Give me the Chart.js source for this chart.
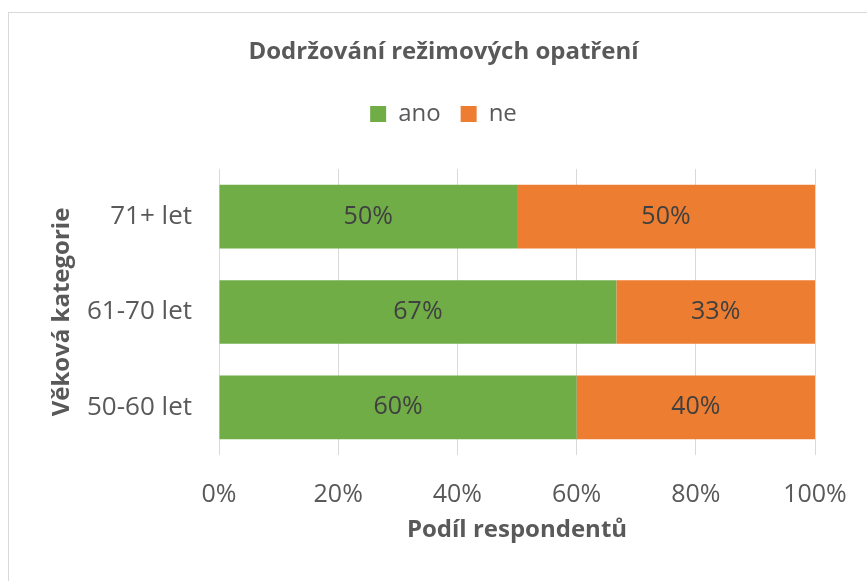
<!DOCTYPE html>
<html>
<head>
<meta charset="utf-8">
<script src="https://cdn.jsdelivr.net/npm/chart.js@4/dist/chart.umd.min.js"></script>
<style>
  html, body { margin: 0; padding: 0; background: #fff; overflow: hidden; }
  #wrap { position: relative; width: 867px; height: 581px; overflow: hidden; }
  #frame { position: absolute; left: 8px; top: 12px; width: 900px; height: 600px;
           border-left: 1px solid #d9d9d9; border-top: 1px solid #d9d9d9; }
  #chart { position: absolute; left: 0; top: 0; display: block; }
</style>
</head>
<body>
<div id="wrap">
  <div id="frame"></div>
  <canvas id="chart" width="887" height="581"></canvas>
</div>
<script>
// categories listed top to bottom as they appear
const categories = ['71+ let', '61-70 let', '50-60 let'];
const anoValues = [50, 66.67, 60];
const neValues = [50, 33.33, 40];
const xTicks = [0, 20, 40, 60, 80, 100];

const FONT = "'Open Sans', sans-serif";
const TEXT = '#595959';

// draws the percentage inside every bar segment
const barLabels = {
  id: 'barLabels',
  afterDatasetsDraw(chart) {
    const ctx = chart.ctx;
    ctx.save();
    ctx.font = '25px ' + FONT;
    ctx.fillStyle = '#404040';
    ctx.textAlign = 'center';
    ctx.textBaseline = 'middle';
    chart.data.datasets.forEach((ds, i) => {
      chart.getDatasetMeta(i).data.forEach((bar, j) => {
        const cx = (bar.x + bar.base) / 2;
        ctx.fillText(Math.round(ds.data[j]) + '%', cx, bar.y);
      });
    });
    ctx.restore();
  }
};

new Chart(document.getElementById('chart'), {
  type: 'bar',
  data: {
    labels: categories,
    datasets: [
      { label: 'ano', data: anoValues, backgroundColor: '#70ad47', borderWidth: 0,
        xAxisID: 'x', yAxisID: 'y', categoryPercentage: 1, barPercentage: 0.667 },
      { label: 'ne', data: neValues, backgroundColor: '#ed7d31', borderWidth: 0,
        xAxisID: 'x', yAxisID: 'y', categoryPercentage: 1, barPercentage: 0.667 }
    ]
  },
  options: {
    indexAxis: 'y',
    responsive: false,
    animation: false,
    devicePixelRatio: 1,
    layout: { padding: 0 },
    plugins: {
      title: {
        display: true,
        text: 'Dodržování režimových opatření',
        color: TEXT,
        font: { family: FONT, size: 24, weight: 'bold' },
        padding: { top: 37.6, bottom: 15.6 }
      },
      legend: {
        display: true,
        position: 'top',
        labels: {
          color: TEXT,
          font: { family: FONT, size: 24 },
          boxWidth: 16,
          boxHeight: 16,
          padding: 20
        }
      },
      tooltip: { enabled: false }
    },
    scales: {
      x: {
        type: 'linear',
        position: 'bottom',
        stacked: true,
        min: 0,
        max: 100,
        afterBuildTicks: (scale) => { scale.ticks = xTicks.map(v => ({ value: v })); },
        afterFit: (scale) => { scale.height = 126; },
        grid: { color: '#d9d9d9', lineWidth: 1, drawTicks: false },
        border: { display: false },
        ticks: {
          color: TEXT,
          font: { family: FONT, size: 25 },
          padding: 24.6,
          callback: (v) => v + '%'
        },
        title: {
          display: true,
          text: 'Podíl respondentů',
          color: TEXT,
          font: { family: FONT, size: 24, weight: 'bold' },
          padding: { top: 0, bottom: 36.6 }
        }
      },
      y: {
        type: 'category',
        position: 'left',
        stacked: true,
        afterFit: (scale) => { scale.width = 219; },
        grid: { display: false, drawTicks: false },
        border: { display: false },
        ticks: {
          color: TEXT,
          font: { family: FONT, size: 26 },
          padding: 27
        },
        title: {
          display: true,
          text: 'Věková kategorie',
          color: TEXT,
          font: { family: FONT, size: 24, weight: 'bold' },
          padding: { top: 47.6, bottom: 0 }
        }
      },
      // empty spacer axes, they only reserve room around the plot
      xTop: {
        axis: 'x',
        type: 'linear',
        position: 'top',
        afterFit: (scale) => { scale.height = 33; },
        grid: { display: false, drawTicks: false },
        border: { display: false },
        ticks: { display: false }
      },
      yRight: {
        axis: 'y',
        type: 'category',
        position: 'right',
        afterFit: (scale) => { scale.width = 72; },
        grid: { display: false, drawTicks: false },
        border: { display: false },
        ticks: { display: false }
      }
    }
  },
  plugins: [barLabels]
});
</script>
</body>
</html>
